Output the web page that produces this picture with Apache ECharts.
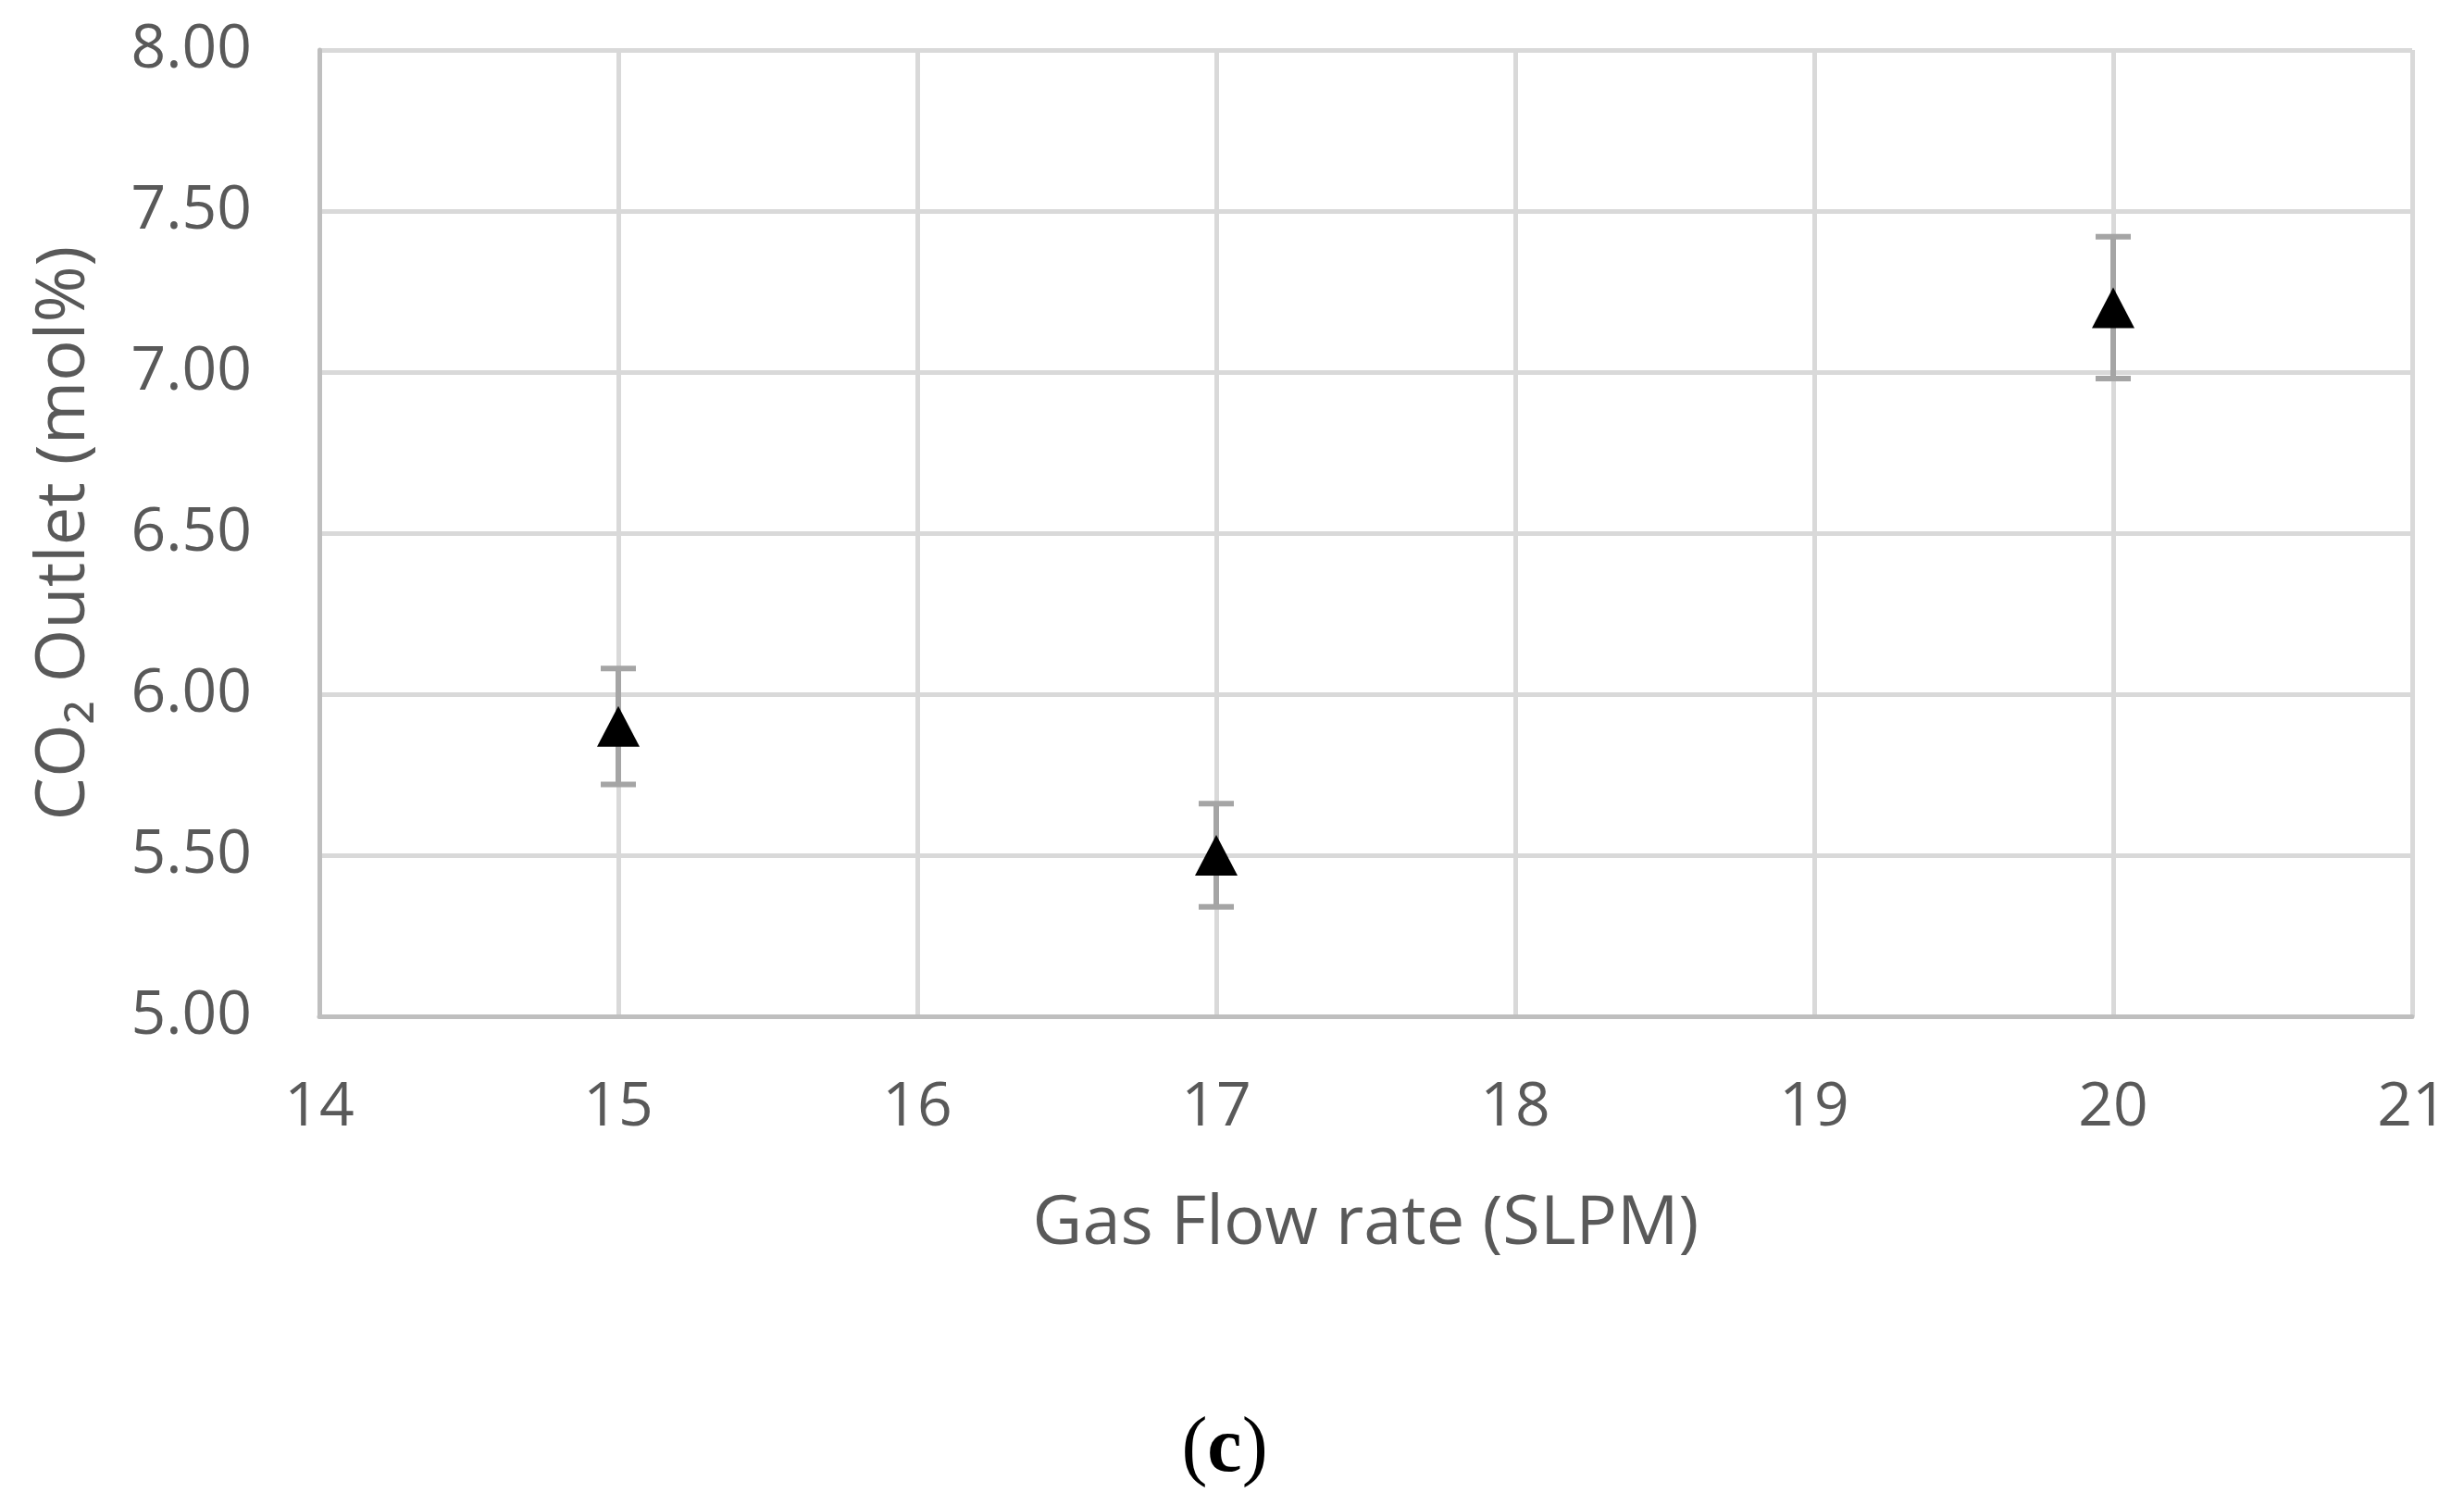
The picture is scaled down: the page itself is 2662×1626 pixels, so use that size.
<!DOCTYPE html>
<html>
<head>
<meta charset="utf-8">
<script src="https://cdn.jsdelivr.net/npm/echarts@6/dist/echarts.min.js"></script>
<style>
html,body{margin:0;padding:0;background:#fff;}
#chart{width:2662px;height:1626px;}
</style>
</head>
<body>
<div id="chart"></div>
<script>
// Data
const flowRates = [15, 17, 20];
const co2Outlet = [5.90, 5.50, 7.20];
const errLow = [5.72, 5.34, 6.98];
const errHigh = [6.08, 5.66, 7.42];
const xTitle = 'Gas Flow rate (SLPM)';
const yTitle = 'CO₂ Outlet (mol%)';

const points = flowRates.map((x, i) => [x, co2Outlet[i]]);
const errData = flowRates.map((x, i) => [x, errLow[i], errHigh[i]]);

const chart = echarts.init(document.getElementById('chart'));
const tickFont = {fontFamily: 'Open Sans', fontSize: 66, color: '#595959'};

chart.setOption({
  animation: false,
  backgroundColor: '#ffffff',
  grid: {left: 345, right: 56, top: 54, bottom: 528, containLabel: false},
  xAxis: {
    type: 'value', min: 14, max: 21, interval: 1,
    name: xTitle, nameLocation: 'middle', nameGap: 188,
    nameTextStyle: {fontFamily: 'Open Sans', fontSize: 74, color: '#595959'},
    axisLine: {show: true, onZero: false, lineStyle: {color: '#bfbfbf', width: 5}},
    axisTick: {show: false},
    axisLabel: Object.assign({margin: 66}, tickFont),
    splitLine: {show: true, lineStyle: {color: '#d9d9d9', width: 5}}
  },
  yAxis: {
    type: 'value', min: 5, max: 8, interval: 0.5,
    name: yTitle, nameLocation: 'middle', nameGap: 238, nameRotate: 90,
    nameTextStyle: {fontFamily: 'Open Sans', fontSize: 74, color: '#595959'},
    axisLine: {show: true, lineStyle: {color: '#bfbfbf', width: 5}},
    axisTick: {show: false},
    axisLabel: Object.assign({margin: 73, formatter: v => v.toFixed(2)}, tickFont),
    splitLine: {show: true, lineStyle: {color: '#d9d9d9', width: 5}}
  },
  graphic: [{
    type: 'text', x: 1323, y: 1567,
    style: {
      text: '{p|(}{b|c}{p|)}',
      align: 'center', verticalAlign: 'middle',
      rich: {
        p: {fontFamily: 'Liberation Serif', fontSize: 84, fill: '#000', color: '#000'},
        b: {fontFamily: 'Liberation Serif', fontWeight: 'bold', fontSize: 84, fill: '#000', color: '#000'}
      }
    }
  }],
  series: [
    {
      type: 'custom',
      data: errData,
      z: 2,
      renderItem: function (params, api) {
        const x = api.value(0);
        const lo = api.coord([x, api.value(1)]);
        const hi = api.coord([x, api.value(2)]);
        const half = 19;
        const st = {stroke: '#a5a5a5', lineWidth: 6};
        return {
          type: 'group',
          children: [
            {type: 'line', shape: {x1: lo[0], y1: lo[1], x2: hi[0], y2: hi[1]}, style: st},
            {type: 'line', shape: {x1: lo[0] - half, y1: lo[1], x2: lo[0] + half, y2: lo[1]}, style: st},
            {type: 'line', shape: {x1: hi[0] - half, y1: hi[1], x2: hi[0] + half, y2: hi[1]}, style: st}
          ]
        };
      }
    },
    {
      type: 'scatter',
      data: points,
      z: 3,
      symbol: 'triangle',
      symbolSize: [46, 44],
      itemStyle: {color: '#000000', opacity: 1}
    }
  ]
});
</script>
</body>
</html>
